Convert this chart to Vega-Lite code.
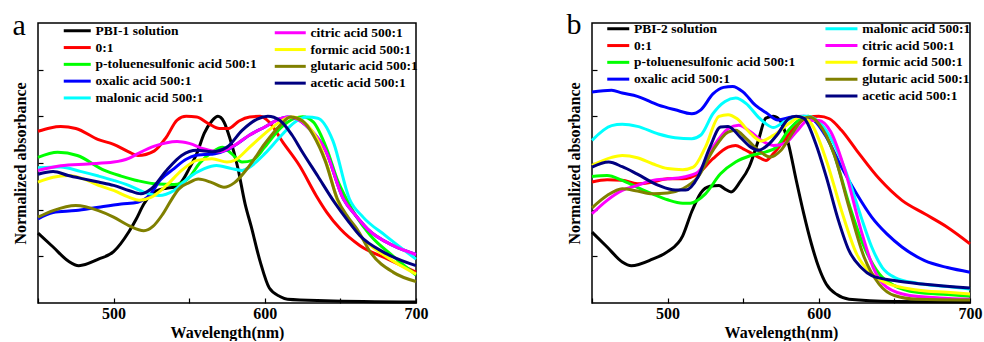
{
"$schema": "https://vega.github.io/schema/vega-lite/v6.json",
"padding": {"left": 11, "top": 9, "right": 0, "bottom": 0},
"spacing": 136,
"config": {
  "view": {"stroke": "black", "strokeWidth": 1.5},
  "font": "Liberation Serif",
  "axis": {"domain": false, "grid": false, "tickColor": "black", "tickSize": -5, "tickWidth": 1.2, "labelFont": "Liberation Serif", "labelFontSize": 16, "labelFontWeight": "bold", "labelColor": "black", "labelFlush": false, "titleFont": "Liberation Serif", "titleFontSize": 16, "titleFontWeight": "bold", "titleColor": "black"},
  "legend": {"orient": "none", "padding": 0, "labelFont": "Liberation Serif", "labelFontSize": 13.5, "labelFontWeight": "bold", "labelColor": "black", "labelLimit": 400, "symbolStrokeWidth": 3.5, "symbolSize": 100, "rowPadding": 1.8},
  "title": {"font": "Liberation Serif", "fontSize": 30, "fontWeight": "normal", "anchor": "start", "frame": "bounds", "color": "black"},
  "line": {"strokeWidth": 3, "interpolate": "monotone"}
},
"datasets": {
"a1": [
{"s":"PBI-1 solution","x":450,"y":0.374},{"s":"PBI-1 solution","x":460,"y":0.30},{"s":"PBI-1 solution","x":470,"y":0.225},{"s":"PBI-1 solution","x":477,"y":0.20},{"s":"PBI-1 solution","x":490,"y":0.235},{"s":"PBI-1 solution","x":500,"y":0.275},{"s":"PBI-1 solution","x":510,"y":0.38},{"s":"PBI-1 solution","x":515,"y":0.45},{"s":"PBI-1 solution","x":520,"y":0.53},{"s":"PBI-1 solution","x":528,"y":0.60},{"s":"PBI-1 solution","x":535,"y":0.615},{"s":"PBI-1 solution","x":540,"y":0.62},{"s":"PBI-1 solution","x":545,"y":0.65},{"s":"PBI-1 solution","x":550,"y":0.72},{"s":"PBI-1 solution","x":555,"y":0.80},{"s":"PBI-1 solution","x":560,"y":0.91},{"s":"PBI-1 solution","x":565,"y":0.975},{"s":"PBI-1 solution","x":569,"y":1.0},{"s":"PBI-1 solution","x":573,"y":0.97},{"s":"PBI-1 solution","x":577,"y":0.88},{"s":"PBI-1 solution","x":582,"y":0.73},{"s":"PBI-1 solution","x":587,"y":0.53},{"s":"PBI-1 solution","x":591,"y":0.41},{"s":"PBI-1 solution","x":597,"y":0.22},{"s":"PBI-1 solution","x":603,"y":0.08},{"s":"PBI-1 solution","x":610,"y":0.035},{"s":"PBI-1 solution","x":615,"y":0.02},{"s":"PBI-1 solution","x":640,"y":0.012},{"s":"PBI-1 solution","x":700,"y":0.005},
{"s":"0:1","x":450,"y":0.92},{"s":"0:1","x":458,"y":0.938},{"s":"0:1","x":465,"y":0.945},{"s":"0:1","x":475,"y":0.935},{"s":"0:1","x":490,"y":0.875},{"s":"0:1","x":500,"y":0.85},{"s":"0:1","x":510,"y":0.81},{"s":"0:1","x":516,"y":0.79},{"s":"0:1","x":527,"y":0.815},{"s":"0:1","x":535,"y":0.89},{"s":"0:1","x":542,"y":0.98},{"s":"0:1","x":548,"y":1.0},{"s":"0:1","x":555,"y":0.996},{"s":"0:1","x":563,"y":0.96},{"s":"0:1","x":570,"y":0.935},{"s":"0:1","x":576,"y":0.935},{"s":"0:1","x":583,"y":0.975},{"s":"0:1","x":590,"y":0.996},{"s":"0:1","x":597,"y":1.0},{"s":"0:1","x":603,"y":0.968},{"s":"0:1","x":612,"y":0.86},{"s":"0:1","x":623,"y":0.735},{"s":"0:1","x":634,"y":0.575},{"s":"0:1","x":641,"y":0.486},{"s":"0:1","x":650,"y":0.396},{"s":"0:1","x":663,"y":0.307},{"s":"0:1","x":681,"y":0.236},{"s":"0:1","x":700,"y":0.165},
{"s":"p-toluenesulfonic acid 500:1","x":450,"y":0.78},{"s":"p-toluenesulfonic acid 500:1","x":463,"y":0.807},{"s":"p-toluenesulfonic acid 500:1","x":476,"y":0.79},{"s":"p-toluenesulfonic acid 500:1","x":494,"y":0.71},{"s":"p-toluenesulfonic acid 500:1","x":505,"y":0.68},{"s":"p-toluenesulfonic acid 500:1","x":516,"y":0.655},{"s":"p-toluenesulfonic acid 500:1","x":529,"y":0.637},{"s":"p-toluenesulfonic acid 500:1","x":540,"y":0.635},{"s":"p-toluenesulfonic acid 500:1","x":549,"y":0.664},{"s":"p-toluenesulfonic acid 500:1","x":557,"y":0.75},{"s":"p-toluenesulfonic acid 500:1","x":565,"y":0.807},{"s":"p-toluenesulfonic acid 500:1","x":572,"y":0.835},{"s":"p-toluenesulfonic acid 500:1","x":578,"y":0.80},{"s":"p-toluenesulfonic acid 500:1","x":585,"y":0.755},{"s":"p-toluenesulfonic acid 500:1","x":592,"y":0.764},{"s":"p-toluenesulfonic acid 500:1","x":600,"y":0.835},{"s":"p-toluenesulfonic acid 500:1","x":610,"y":0.934},{"s":"p-toluenesulfonic acid 500:1","x":620,"y":0.99},{"s":"p-toluenesulfonic acid 500:1","x":625,"y":0.998},{"s":"p-toluenesulfonic acid 500:1","x":632,"y":0.97},{"s":"p-toluenesulfonic acid 500:1","x":641,"y":0.825},{"s":"p-toluenesulfonic acid 500:1","x":648,"y":0.66},{"s":"p-toluenesulfonic acid 500:1","x":654,"y":0.557},{"s":"p-toluenesulfonic acid 500:1","x":660,"y":0.47},{"s":"p-toluenesulfonic acid 500:1","x":670,"y":0.36},{"s":"p-toluenesulfonic acid 500:1","x":685,"y":0.25},{"s":"p-toluenesulfonic acid 500:1","x":700,"y":0.15},
{"s":"oxalic acid 500:1","x":450,"y":0.45},{"s":"oxalic acid 500:1","x":460,"y":0.485},{"s":"oxalic acid 500:1","x":475,"y":0.495},{"s":"oxalic acid 500:1","x":490,"y":0.513},{"s":"oxalic acid 500:1","x":505,"y":0.53},{"s":"oxalic acid 500:1","x":516,"y":0.54},{"s":"oxalic acid 500:1","x":524,"y":0.58},{"s":"oxalic acid 500:1","x":531,"y":0.66},{"s":"oxalic acid 500:1","x":540,"y":0.72},{"s":"oxalic acid 500:1","x":548,"y":0.77},{"s":"oxalic acid 500:1","x":554,"y":0.79},{"s":"oxalic acid 500:1","x":560,"y":0.795},{"s":"oxalic acid 500:1","x":567,"y":0.80},{"s":"oxalic acid 500:1","x":575,"y":0.82},{"s":"oxalic acid 500:1","x":583,"y":0.86},{"s":"oxalic acid 500:1","x":590,"y":0.90},{"s":"oxalic acid 500:1","x":600,"y":0.943},{"s":"oxalic acid 500:1","x":610,"y":0.987},{"s":"oxalic acid 500:1","x":615,"y":0.996},{"s":"oxalic acid 500:1","x":620,"y":0.99},{"s":"oxalic acid 500:1","x":630,"y":0.93},{"s":"oxalic acid 500:1","x":640,"y":0.82},{"s":"oxalic acid 500:1","x":652,"y":0.557},{"s":"oxalic acid 500:1","x":660,"y":0.47},{"s":"oxalic acid 500:1","x":668,"y":0.396},{"s":"oxalic acid 500:1","x":685,"y":0.307},{"s":"oxalic acid 500:1","x":700,"y":0.26},
{"s":"malonic acid 500:1","x":450,"y":0.725},{"s":"malonic acid 500:1","x":465,"y":0.728},{"s":"malonic acid 500:1","x":478,"y":0.705},{"s":"malonic acid 500:1","x":490,"y":0.68},{"s":"malonic acid 500:1","x":500,"y":0.657},{"s":"malonic acid 500:1","x":510,"y":0.63},{"s":"malonic acid 500:1","x":520,"y":0.594},{"s":"malonic acid 500:1","x":530,"y":0.576},{"s":"malonic acid 500:1","x":540,"y":0.603},{"s":"malonic acid 500:1","x":550,"y":0.674},{"s":"malonic acid 500:1","x":560,"y":0.72},{"s":"malonic acid 500:1","x":568,"y":0.737},{"s":"malonic acid 500:1","x":578,"y":0.72},{"s":"malonic acid 500:1","x":585,"y":0.71},{"s":"malonic acid 500:1","x":590,"y":0.728},{"s":"malonic acid 500:1","x":600,"y":0.80},{"s":"malonic acid 500:1","x":610,"y":0.889},{"s":"malonic acid 500:1","x":620,"y":0.97},{"s":"malonic acid 500:1","x":628,"y":0.996},{"s":"malonic acid 500:1","x":635,"y":0.99},{"s":"malonic acid 500:1","x":645,"y":0.87},{"s":"malonic acid 500:1","x":656,"y":0.557},{"s":"malonic acid 500:1","x":665,"y":0.46},{"s":"malonic acid 500:1","x":680,"y":0.36},{"s":"malonic acid 500:1","x":700,"y":0.235}
],
"a2": [
{"s":"citric acid 500:1","x":450,"y":0.71},{"s":"citric acid 500:1","x":465,"y":0.735},{"s":"citric acid 500:1","x":483,"y":0.745},{"s":"citric acid 500:1","x":500,"y":0.755},{"s":"citric acid 500:1","x":510,"y":0.775},{"s":"citric acid 500:1","x":516,"y":0.80},{"s":"citric acid 500:1","x":527,"y":0.84},{"s":"citric acid 500:1","x":542,"y":0.865},{"s":"citric acid 500:1","x":550,"y":0.855},{"s":"citric acid 500:1","x":560,"y":0.825},{"s":"citric acid 500:1","x":570,"y":0.81},{"s":"citric acid 500:1","x":580,"y":0.845},{"s":"citric acid 500:1","x":590,"y":0.90},{"s":"citric acid 500:1","x":600,"y":0.943},{"s":"citric acid 500:1","x":610,"y":0.987},{"s":"citric acid 500:1","x":615,"y":0.996},{"s":"citric acid 500:1","x":620,"y":0.99},{"s":"citric acid 500:1","x":630,"y":0.93},{"s":"citric acid 500:1","x":640,"y":0.82},{"s":"citric acid 500:1","x":652,"y":0.557},{"s":"citric acid 500:1","x":660,"y":0.47},{"s":"citric acid 500:1","x":668,"y":0.396},{"s":"citric acid 500:1","x":685,"y":0.307},{"s":"citric acid 500:1","x":700,"y":0.26},
{"s":"formic acid 500:1","x":450,"y":0.648},{"s":"formic acid 500:1","x":460,"y":0.674},{"s":"formic acid 500:1","x":470,"y":0.683},{"s":"formic acid 500:1","x":480,"y":0.665},{"s":"formic acid 500:1","x":490,"y":0.63},{"s":"formic acid 500:1","x":500,"y":0.603},{"s":"formic acid 500:1","x":510,"y":0.567},{"s":"formic acid 500:1","x":517,"y":0.55},{"s":"formic acid 500:1","x":525,"y":0.567},{"s":"formic acid 500:1","x":535,"y":0.63},{"s":"formic acid 500:1","x":545,"y":0.71},{"s":"formic acid 500:1","x":555,"y":0.764},{"s":"formic acid 500:1","x":565,"y":0.773},{"s":"formic acid 500:1","x":575,"y":0.755},{"s":"formic acid 500:1","x":580,"y":0.764},{"s":"formic acid 500:1","x":590,"y":0.835},{"s":"formic acid 500:1","x":600,"y":0.907},{"s":"formic acid 500:1","x":610,"y":0.97},{"s":"formic acid 500:1","x":618,"y":0.996},{"s":"formic acid 500:1","x":625,"y":0.975},{"s":"formic acid 500:1","x":635,"y":0.87},{"s":"formic acid 500:1","x":642,"y":0.72},{"s":"formic acid 500:1","x":648,"y":0.55},{"s":"formic acid 500:1","x":655,"y":0.45},{"s":"formic acid 500:1","x":663,"y":0.36},{"s":"formic acid 500:1","x":680,"y":0.25},{"s":"formic acid 500:1","x":700,"y":0.155},
{"s":"glutaric acid 500:1","x":450,"y":0.46},{"s":"glutaric acid 500:1","x":460,"y":0.495},{"s":"glutaric acid 500:1","x":475,"y":0.522},{"s":"glutaric acid 500:1","x":490,"y":0.495},{"s":"glutaric acid 500:1","x":500,"y":0.46},{"s":"glutaric acid 500:1","x":510,"y":0.415},{"s":"glutaric acid 500:1","x":520,"y":0.387},{"s":"glutaric acid 500:1","x":526,"y":0.41},{"s":"glutaric acid 500:1","x":532,"y":0.47},{"s":"glutaric acid 500:1","x":538,"y":0.55},{"s":"glutaric acid 500:1","x":543,"y":0.61},{"s":"glutaric acid 500:1","x":550,"y":0.645},{"s":"glutaric acid 500:1","x":556,"y":0.664},{"s":"glutaric acid 500:1","x":565,"y":0.645},{"s":"glutaric acid 500:1","x":573,"y":0.62},{"s":"glutaric acid 500:1","x":580,"y":0.645},{"s":"glutaric acid 500:1","x":590,"y":0.737},{"s":"glutaric acid 500:1","x":600,"y":0.853},{"s":"glutaric acid 500:1","x":610,"y":0.95},{"s":"glutaric acid 500:1","x":617,"y":0.996},{"s":"glutaric acid 500:1","x":625,"y":0.975},{"s":"glutaric acid 500:1","x":632,"y":0.90},{"s":"glutaric acid 500:1","x":640,"y":0.76},{"s":"glutaric acid 500:1","x":648,"y":0.557},{"s":"glutaric acid 500:1","x":655,"y":0.46},{"s":"glutaric acid 500:1","x":661,"y":0.396},{"s":"glutaric acid 500:1","x":670,"y":0.27},{"s":"glutaric acid 500:1","x":685,"y":0.164},{"s":"glutaric acid 500:1","x":700,"y":0.115},
{"s":"acetic acid 500:1","x":450,"y":0.69},{"s":"acetic acid 500:1","x":460,"y":0.705},{"s":"acetic acid 500:1","x":470,"y":0.683},{"s":"acetic acid 500:1","x":480,"y":0.665},{"s":"acetic acid 500:1","x":490,"y":0.648},{"s":"acetic acid 500:1","x":500,"y":0.63},{"s":"acetic acid 500:1","x":510,"y":0.603},{"s":"acetic acid 500:1","x":518,"y":0.585},{"s":"acetic acid 500:1","x":525,"y":0.612},{"s":"acetic acid 500:1","x":535,"y":0.71},{"s":"acetic acid 500:1","x":545,"y":0.79},{"s":"acetic acid 500:1","x":555,"y":0.818},{"s":"acetic acid 500:1","x":565,"y":0.81},{"s":"acetic acid 500:1","x":575,"y":0.835},{"s":"acetic acid 500:1","x":585,"y":0.925},{"s":"acetic acid 500:1","x":595,"y":0.985},{"s":"acetic acid 500:1","x":602,"y":1.0},{"s":"acetic acid 500:1","x":610,"y":0.978},{"s":"acetic acid 500:1","x":618,"y":0.90},{"s":"acetic acid 500:1","x":624,"y":0.82},{"s":"acetic acid 500:1","x":635,"y":0.68},{"s":"acetic acid 500:1","x":646,"y":0.54},{"s":"acetic acid 500:1","x":655,"y":0.44},{"s":"acetic acid 500:1","x":663,"y":0.36},{"s":"acetic acid 500:1","x":679,"y":0.27},{"s":"acetic acid 500:1","x":700,"y":0.20}
],
"b1": [
{"s":"PBI-2 solution","x":450,"y":0.38},{"s":"PBI-2 solution","x":460,"y":0.30},{"s":"PBI-2 solution","x":470,"y":0.22},{"s":"PBI-2 solution","x":476,"y":0.20},{"s":"PBI-2 solution","x":490,"y":0.235},{"s":"PBI-2 solution","x":500,"y":0.275},{"s":"PBI-2 solution","x":510,"y":0.36},{"s":"PBI-2 solution","x":516,"y":0.49},{"s":"PBI-2 solution","x":522,"y":0.59},{"s":"PBI-2 solution","x":528,"y":0.625},{"s":"PBI-2 solution","x":534,"y":0.63},{"s":"PBI-2 solution","x":538,"y":0.61},{"s":"PBI-2 solution","x":542,"y":0.595},{"s":"PBI-2 solution","x":548,"y":0.65},{"s":"PBI-2 solution","x":554,"y":0.73},{"s":"PBI-2 solution","x":560,"y":0.87},{"s":"PBI-2 solution","x":565,"y":0.99},{"s":"PBI-2 solution","x":570,"y":1.0},{"s":"PBI-2 solution","x":575,"y":0.97},{"s":"PBI-2 solution","x":580,"y":0.85},{"s":"PBI-2 solution","x":585,"y":0.66},{"s":"PBI-2 solution","x":590,"y":0.48},{"s":"PBI-2 solution","x":595,"y":0.32},{"s":"PBI-2 solution","x":600,"y":0.19},{"s":"PBI-2 solution","x":605,"y":0.10},{"s":"PBI-2 solution","x":612,"y":0.045},{"s":"PBI-2 solution","x":620,"y":0.02},{"s":"PBI-2 solution","x":650,"y":0.008},{"s":"PBI-2 solution","x":700,"y":0.005},
{"s":"0:1","x":450,"y":0.648},{"s":"0:1","x":460,"y":0.66},{"s":"0:1","x":470,"y":0.657},{"s":"0:1","x":480,"y":0.639},{"s":"0:1","x":490,"y":0.648},{"s":"0:1","x":500,"y":0.665},{"s":"0:1","x":510,"y":0.665},{"s":"0:1","x":520,"y":0.692},{"s":"0:1","x":530,"y":0.773},{"s":"0:1","x":540,"y":0.835},{"s":"0:1","x":545,"y":0.844},{"s":"0:1","x":550,"y":0.826},{"s":"0:1","x":560,"y":0.782},{"s":"0:1","x":565,"y":0.764},{"s":"0:1","x":570,"y":0.80},{"s":"0:1","x":577,"y":0.87},{"s":"0:1","x":585,"y":0.95},{"s":"0:1","x":593,"y":0.993},{"s":"0:1","x":600,"y":1.0},{"s":"0:1","x":607,"y":0.987},{"s":"0:1","x":615,"y":0.925},{"s":"0:1","x":625,"y":0.818},{"s":"0:1","x":640,"y":0.665},{"s":"0:1","x":655,"y":0.55},{"s":"0:1","x":670,"y":0.478},{"s":"0:1","x":685,"y":0.406},{"s":"0:1","x":700,"y":0.317},
{"s":"p-toluenesulfonic acid 500:1","x":450,"y":0.678},{"s":"p-toluenesulfonic acid 500:1","x":460,"y":0.683},{"s":"p-toluenesulfonic acid 500:1","x":470,"y":0.657},{"s":"p-toluenesulfonic acid 500:1","x":480,"y":0.62},{"s":"p-toluenesulfonic acid 500:1","x":490,"y":0.585},{"s":"p-toluenesulfonic acid 500:1","x":500,"y":0.553},{"s":"p-toluenesulfonic acid 500:1","x":510,"y":0.535},{"s":"p-toluenesulfonic acid 500:1","x":515,"y":0.535},{"s":"p-toluenesulfonic acid 500:1","x":525,"y":0.585},{"s":"p-toluenesulfonic acid 500:1","x":535,"y":0.692},{"s":"p-toluenesulfonic acid 500:1","x":545,"y":0.755},{"s":"p-toluenesulfonic acid 500:1","x":555,"y":0.79},{"s":"p-toluenesulfonic acid 500:1","x":565,"y":0.81},{"s":"p-toluenesulfonic acid 500:1","x":572,"y":0.835},{"s":"p-toluenesulfonic acid 500:1","x":580,"y":0.925},{"s":"p-toluenesulfonic acid 500:1","x":588,"y":0.987},{"s":"p-toluenesulfonic acid 500:1","x":593,"y":1.0},{"s":"p-toluenesulfonic acid 500:1","x":600,"y":0.96},{"s":"p-toluenesulfonic acid 500:1","x":610,"y":0.80},{"s":"p-toluenesulfonic acid 500:1","x":620,"y":0.53},{"s":"p-toluenesulfonic acid 500:1","x":630,"y":0.30},{"s":"p-toluenesulfonic acid 500:1","x":640,"y":0.156},{"s":"p-toluenesulfonic acid 500:1","x":650,"y":0.093},{"s":"p-toluenesulfonic acid 500:1","x":665,"y":0.057},{"s":"p-toluenesulfonic acid 500:1","x":685,"y":0.045},{"s":"p-toluenesulfonic acid 500:1","x":700,"y":0.036},
{"s":"oxalic acid 500:1","x":450,"y":1.13},{"s":"oxalic acid 500:1","x":463,"y":1.14},{"s":"oxalic acid 500:1","x":470,"y":1.125},{"s":"oxalic acid 500:1","x":480,"y":1.107},{"s":"oxalic acid 500:1","x":494,"y":1.06},{"s":"oxalic acid 500:1","x":505,"y":1.035},{"s":"oxalic acid 500:1","x":516,"y":1.014},{"s":"oxalic acid 500:1","x":522,"y":1.035},{"s":"oxalic acid 500:1","x":530,"y":1.12},{"s":"oxalic acid 500:1","x":537,"y":1.155},{"s":"oxalic acid 500:1","x":543,"y":1.16},{"s":"oxalic acid 500:1","x":550,"y":1.13},{"s":"oxalic acid 500:1","x":558,"y":1.06},{"s":"oxalic acid 500:1","x":565,"y":1.02},{"s":"oxalic acid 500:1","x":573,"y":0.98},{"s":"oxalic acid 500:1","x":582,"y":0.996},{"s":"oxalic acid 500:1","x":590,"y":1.0},{"s":"oxalic acid 500:1","x":597,"y":0.978},{"s":"oxalic acid 500:1","x":605,"y":0.889},{"s":"oxalic acid 500:1","x":615,"y":0.728},{"s":"oxalic acid 500:1","x":625,"y":0.585},{"s":"oxalic acid 500:1","x":635,"y":0.46},{"s":"oxalic acid 500:1","x":645,"y":0.37},{"s":"oxalic acid 500:1","x":655,"y":0.30},{"s":"oxalic acid 500:1","x":670,"y":0.227},{"s":"oxalic acid 500:1","x":685,"y":0.19},{"s":"oxalic acid 500:1","x":700,"y":0.165}
],
"b2": [
{"s":"malonic acid 500:1","x":450,"y":0.871},{"s":"malonic acid 500:1","x":463,"y":0.95},{"s":"malonic acid 500:1","x":470,"y":0.957},{"s":"malonic acid 500:1","x":480,"y":0.946},{"s":"malonic acid 500:1","x":494,"y":0.905},{"s":"malonic acid 500:1","x":505,"y":0.885},{"s":"malonic acid 500:1","x":516,"y":0.88},{"s":"malonic acid 500:1","x":522,"y":0.90},{"s":"malonic acid 500:1","x":530,"y":1.014},{"s":"malonic acid 500:1","x":538,"y":1.08},{"s":"malonic acid 500:1","x":545,"y":1.098},{"s":"malonic acid 500:1","x":552,"y":1.068},{"s":"malonic acid 500:1","x":560,"y":0.996},{"s":"malonic acid 500:1","x":565,"y":0.96},{"s":"malonic acid 500:1","x":570,"y":0.94},{"s":"malonic acid 500:1","x":577,"y":0.97},{"s":"malonic acid 500:1","x":585,"y":0.996},{"s":"malonic acid 500:1","x":592,"y":1.0},{"s":"malonic acid 500:1","x":600,"y":0.97},{"s":"malonic acid 500:1","x":610,"y":0.853},{"s":"malonic acid 500:1","x":620,"y":0.657},{"s":"malonic acid 500:1","x":628,"y":0.46},{"s":"malonic acid 500:1","x":635,"y":0.30},{"s":"malonic acid 500:1","x":642,"y":0.19},{"s":"malonic acid 500:1","x":650,"y":0.138},{"s":"malonic acid 500:1","x":665,"y":0.106},{"s":"malonic acid 500:1","x":685,"y":0.088},{"s":"malonic acid 500:1","x":700,"y":0.075},
{"s":"citric acid 500:1","x":450,"y":0.478},{"s":"citric acid 500:1","x":460,"y":0.55},{"s":"citric acid 500:1","x":470,"y":0.603},{"s":"citric acid 500:1","x":480,"y":0.63},{"s":"citric acid 500:1","x":490,"y":0.657},{"s":"citric acid 500:1","x":500,"y":0.665},{"s":"citric acid 500:1","x":510,"y":0.674},{"s":"citric acid 500:1","x":520,"y":0.70},{"s":"citric acid 500:1","x":530,"y":0.835},{"s":"citric acid 500:1","x":540,"y":0.934},{"s":"citric acid 500:1","x":547,"y":0.952},{"s":"citric acid 500:1","x":555,"y":0.916},{"s":"citric acid 500:1","x":562,"y":0.871},{"s":"citric acid 500:1","x":570,"y":0.844},{"s":"citric acid 500:1","x":578,"y":0.857},{"s":"citric acid 500:1","x":585,"y":0.916},{"s":"citric acid 500:1","x":593,"y":0.978},{"s":"citric acid 500:1","x":600,"y":0.978},{"s":"citric acid 500:1","x":608,"y":0.916},{"s":"citric acid 500:1","x":618,"y":0.692},{"s":"citric acid 500:1","x":628,"y":0.388},{"s":"citric acid 500:1","x":636,"y":0.19},{"s":"citric acid 500:1","x":645,"y":0.084},{"s":"citric acid 500:1","x":660,"y":0.04},{"s":"citric acid 500:1","x":680,"y":0.027},{"s":"citric acid 500:1","x":700,"y":0.02},
{"s":"formic acid 500:1","x":450,"y":0.737},{"s":"formic acid 500:1","x":463,"y":0.78},{"s":"formic acid 500:1","x":470,"y":0.79},{"s":"formic acid 500:1","x":480,"y":0.778},{"s":"formic acid 500:1","x":490,"y":0.746},{"s":"formic acid 500:1","x":500,"y":0.72},{"s":"formic acid 500:1","x":510,"y":0.714},{"s":"formic acid 500:1","x":517,"y":0.728},{"s":"formic acid 500:1","x":525,"y":0.835},{"s":"formic acid 500:1","x":534,"y":1.0},{"s":"formic acid 500:1","x":540,"y":1.009},{"s":"formic acid 500:1","x":546,"y":0.987},{"s":"formic acid 500:1","x":555,"y":0.907},{"s":"formic acid 500:1","x":562,"y":0.868},{"s":"formic acid 500:1","x":570,"y":0.898},{"s":"formic acid 500:1","x":580,"y":0.96},{"s":"formic acid 500:1","x":588,"y":0.996},{"s":"formic acid 500:1","x":595,"y":0.96},{"s":"formic acid 500:1","x":605,"y":0.764},{"s":"formic acid 500:1","x":615,"y":0.495},{"s":"formic acid 500:1","x":625,"y":0.263},{"s":"formic acid 500:1","x":635,"y":0.156},{"s":"formic acid 500:1","x":645,"y":0.106},{"s":"formic acid 500:1","x":665,"y":0.07},{"s":"formic acid 500:1","x":685,"y":0.057},{"s":"formic acid 500:1","x":700,"y":0.048},
{"s":"glutaric acid 500:1","x":450,"y":0.51},{"s":"glutaric acid 500:1","x":460,"y":0.576},{"s":"glutaric acid 500:1","x":470,"y":0.612},{"s":"glutaric acid 500:1","x":480,"y":0.60},{"s":"glutaric acid 500:1","x":490,"y":0.585},{"s":"glutaric acid 500:1","x":500,"y":0.589},{"s":"glutaric acid 500:1","x":510,"y":0.612},{"s":"glutaric acid 500:1","x":520,"y":0.674},{"s":"glutaric acid 500:1","x":530,"y":0.818},{"s":"glutaric acid 500:1","x":540,"y":0.916},{"s":"glutaric acid 500:1","x":545,"y":0.925},{"s":"glutaric acid 500:1","x":552,"y":0.88},{"s":"glutaric acid 500:1","x":560,"y":0.818},{"s":"glutaric acid 500:1","x":568,"y":0.782},{"s":"glutaric acid 500:1","x":575,"y":0.818},{"s":"glutaric acid 500:1","x":583,"y":0.916},{"s":"glutaric acid 500:1","x":590,"y":0.987},{"s":"glutaric acid 500:1","x":594,"y":0.996},{"s":"glutaric acid 500:1","x":600,"y":0.96},{"s":"glutaric acid 500:1","x":610,"y":0.80},{"s":"glutaric acid 500:1","x":620,"y":0.513},{"s":"glutaric acid 500:1","x":630,"y":0.245},{"s":"glutaric acid 500:1","x":640,"y":0.10},{"s":"glutaric acid 500:1","x":650,"y":0.04},{"s":"glutaric acid 500:1","x":665,"y":0.02},{"s":"glutaric acid 500:1","x":700,"y":0.016},
{"s":"acetic acid 500:1","x":450,"y":0.728},{"s":"acetic acid 500:1","x":461,"y":0.755},{"s":"acetic acid 500:1","x":470,"y":0.73},{"s":"acetic acid 500:1","x":480,"y":0.69},{"s":"acetic acid 500:1","x":494,"y":0.63},{"s":"acetic acid 500:1","x":505,"y":0.605},{"s":"acetic acid 500:1","x":512,"y":0.605},{"s":"acetic acid 500:1","x":520,"y":0.674},{"s":"acetic acid 500:1","x":528,"y":0.835},{"s":"acetic acid 500:1","x":535,"y":0.943},{"s":"acetic acid 500:1","x":540,"y":0.946},{"s":"acetic acid 500:1","x":548,"y":0.889},{"s":"acetic acid 500:1","x":555,"y":0.835},{"s":"acetic acid 500:1","x":560,"y":0.818},{"s":"acetic acid 500:1","x":566,"y":0.844},{"s":"acetic acid 500:1","x":573,"y":0.907},{"s":"acetic acid 500:1","x":580,"y":0.987},{"s":"acetic acid 500:1","x":585,"y":1.0},{"s":"acetic acid 500:1","x":590,"y":0.99},{"s":"acetic acid 500:1","x":598,"y":0.853},{"s":"acetic acid 500:1","x":605,"y":0.674},{"s":"acetic acid 500:1","x":613,"y":0.442},{"s":"acetic acid 500:1","x":620,"y":0.28},{"s":"acetic acid 500:1","x":628,"y":0.19},{"s":"acetic acid 500:1","x":635,"y":0.147},{"s":"acetic acid 500:1","x":650,"y":0.12},{"s":"acetic acid 500:1","x":670,"y":0.10},{"s":"acetic acid 500:1","x":700,"y":0.08}
]
},
"hconcat": [
{
  "width": 378, "height": 280,
  "title": {"text": "a", "dy": 22},
  "encoding": {
    "x": {"field": "x", "type": "quantitative", "scale": {"domain": [450, 700], "nice": false}, "axis": {"title": "Wavelength(nm)", "values": [450, 500, 550, 600, 650, 700], "labelExpr": "datum.value == 500 || datum.value == 600 || datum.value == 700 ? datum.label : ''", "labelPadding": 7, "titlePadding": 3}},
    "y": {"field": "y", "type": "quantitative", "scale": {"domain": [0, 1.5], "nice": false}, "axis": {"title": "Normalized absorbance", "labels": false, "values": [0.25, 0.5, 0.75, 1, 1.25], "titlePadding": 9}}
  },
  "layer": [
    {"data": {"name": "a1"}, "mark": "line", "encoding": {"color": {"field": "s", "type": "nominal", "scale": {"domain": ["PBI-1 solution", "0:1", "p-toluenesulfonic acid 500:1", "oxalic acid 500:1", "malonic acid 500:1"], "range": ["#000000", "#ff0000", "#00ff00", "#0000ff", "#00ffff"]}, "legend": {"title": null, "orient": "none", "legendX": 32.5, "legendY": 1, "symbolType": "M-2.7,0H2.7", "labelOffset": 11.5}}}},
    {"data": {"name": "a2"}, "mark": "line", "encoding": {"color": {"field": "s", "type": "nominal", "scale": {"domain": ["citric acid 500:1", "formic acid 500:1", "glutaric acid 500:1", "acetic acid 500:1"], "range": ["#ff00ff", "#ffff00", "#808000", "#000080"]}, "legend": {"title": null, "orient": "none", "legendX": 245.5, "legendY": 3, "symbolType": "M-3.1,0H3.1", "labelOffset": 13.5}}}}
  ],
  "resolve": {"scale": {"color": "independent"}}
},
{
  "width": 378, "height": 280,
  "title": {"text": "b", "dy": 22},
  "encoding": {
    "x": {"field": "x", "type": "quantitative", "scale": {"domain": [450, 700], "nice": false}, "axis": {"title": "Wavelength(nm)", "values": [450, 500, 550, 600, 650, 700], "labelExpr": "datum.value == 500 || datum.value == 600 || datum.value == 700 ? datum.label : ''", "labelPadding": 7, "titlePadding": 3}},
    "y": {"field": "y", "type": "quantitative", "scale": {"domain": [0, 1.5], "nice": false}, "axis": {"title": "Normalized absorbance", "labels": false, "values": [0.25, 0.5, 0.75, 1, 1.25], "titlePadding": 9}}
  },
  "layer": [
    {"data": {"name": "b1"}, "mark": "line", "encoding": {"color": {"field": "s", "type": "nominal", "scale": {"domain": ["PBI-2 solution", "0:1", "p-toluenesulfonic acid 500:1", "oxalic acid 500:1"], "range": ["#000000", "#ff0000", "#00ff00", "#0000ff"]}, "legend": {"title": null, "orient": "none", "legendX": 19.5, "legendY": -1, "symbolType": "M-2.2,0H2.2", "labelOffset": 9}}}},
    {"data": {"name": "b2"}, "mark": "line", "encoding": {"color": {"field": "s", "type": "nominal", "scale": {"domain": ["malonic acid 500:1", "citric acid 500:1", "formic acid 500:1", "glutaric acid 500:1", "acetic acid 500:1"], "range": ["#00ffff", "#ff00ff", "#ffff00", "#808000", "#000080"]}, "legend": {"title": null, "orient": "none", "legendX": 242.7, "legendY": -1, "symbolType": "M-3.2,0H3.2", "labelOffset": 14}}}}
  ],
  "resolve": {"scale": {"color": "independent"}}
}
]
}
